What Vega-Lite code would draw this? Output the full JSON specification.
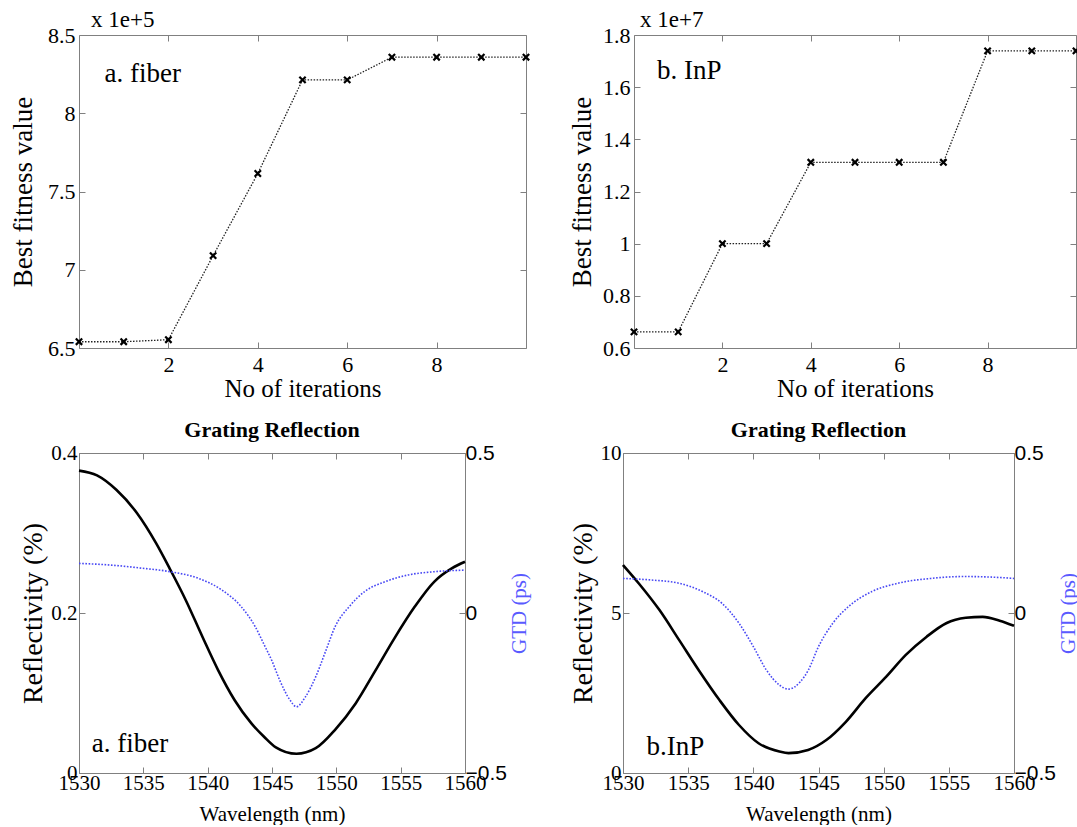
{
  "$schema": "https://vega.github.io/schema/vega-lite/v6.json",
  "background": "white",
  "padding": {"left": 9, "top": 8, "right": 0, "bottom": 0},
  "config": {
    "view": {"stroke": "#808080", "strokeWidth": 1},
    "font": "Liberation Serif",
    "axis": {"labelFont": "Liberation Serif", "titleFont": "Liberation Serif", "labelColor": "black", "titleColor": "black", "titleFontWeight": "normal", "domain": false, "grid": false, "tickColor": "#808080", "tickSize": -6, "ticks": true, "labelOverlap": false, "labelFlush": false},
    "title": {"font": "Liberation Serif", "color": "black"}
  },
  "datasets": {
    "fiberFit": [
      {"iteration": 0, "fitness": 6.54}, {"iteration": 1, "fitness": 6.54}, {"iteration": 2, "fitness": 6.553},
      {"iteration": 3, "fitness": 7.09}, {"iteration": 4, "fitness": 7.615}, {"iteration": 5, "fitness": 8.213},
      {"iteration": 6, "fitness": 8.213}, {"iteration": 7, "fitness": 8.358}, {"iteration": 8, "fitness": 8.358},
      {"iteration": 9, "fitness": 8.358}, {"iteration": 10, "fitness": 8.358}
    ],
    "inpFit": [
      {"iteration": 0, "fitness": 0.662}, {"iteration": 1, "fitness": 0.662}, {"iteration": 2, "fitness": 1.0},
      {"iteration": 3, "fitness": 1.0}, {"iteration": 4, "fitness": 1.312}, {"iteration": 5, "fitness": 1.312},
      {"iteration": 6, "fitness": 1.312}, {"iteration": 7, "fitness": 1.312}, {"iteration": 8, "fitness": 1.739},
      {"iteration": 9, "fitness": 1.739}, {"iteration": 10, "fitness": 1.739}
    ],
    "fiberR": [
      {"wavelength": 1530, "reflectivity": 0.378}, {"wavelength": 1531.4, "reflectivity": 0.372},
      {"wavelength": 1532.9, "reflectivity": 0.354}, {"wavelength": 1534.5, "reflectivity": 0.325},
      {"wavelength": 1536, "reflectivity": 0.287}, {"wavelength": 1537.1, "reflectivity": 0.254},
      {"wavelength": 1538.3, "reflectivity": 0.216}, {"wavelength": 1539.6, "reflectivity": 0.17},
      {"wavelength": 1540.8, "reflectivity": 0.129}, {"wavelength": 1542.1, "reflectivity": 0.091},
      {"wavelength": 1543.4, "reflectivity": 0.062}, {"wavelength": 1544.4, "reflectivity": 0.045},
      {"wavelength": 1545.3, "reflectivity": 0.032}, {"wavelength": 1546.9, "reflectivity": 0.024},
      {"wavelength": 1548.4, "reflectivity": 0.031}, {"wavelength": 1549.9, "reflectivity": 0.054},
      {"wavelength": 1551.5, "reflectivity": 0.087}, {"wavelength": 1553, "reflectivity": 0.127},
      {"wavelength": 1554.5, "reflectivity": 0.168}, {"wavelength": 1556.1, "reflectivity": 0.208},
      {"wavelength": 1557.6, "reflectivity": 0.239}, {"wavelength": 1559, "reflectivity": 0.256},
      {"wavelength": 1560, "reflectivity": 0.264}
    ],
    "fiberG": [
      {"wavelength": 1530, "gtd": 0.155}, {"wavelength": 1532.4, "gtd": 0.15}, {"wavelength": 1534.9, "gtd": 0.14},
      {"wavelength": 1537.1, "gtd": 0.129}, {"wavelength": 1539.3, "gtd": 0.108}, {"wavelength": 1541.1, "gtd": 0.072},
      {"wavelength": 1542.6, "gtd": 0.02}, {"wavelength": 1543.7, "gtd": -0.043}, {"wavelength": 1544.4, "gtd": -0.1},
      {"wavelength": 1545.0, "gtd": -0.15}, {"wavelength": 1545.6, "gtd": -0.21}, {"wavelength": 1546.4, "gtd": -0.272},
      {"wavelength": 1546.9, "gtd": -0.293}, {"wavelength": 1547.6, "gtd": -0.262}, {"wavelength": 1548.4, "gtd": -0.199},
      {"wavelength": 1549.2, "gtd": -0.116}, {"wavelength": 1549.9, "gtd": -0.043}, {"wavelength": 1551, "gtd": 0.02},
      {"wavelength": 1552.2, "gtd": 0.067}, {"wavelength": 1553.8, "gtd": 0.098}, {"wavelength": 1555.6, "gtd": 0.119},
      {"wavelength": 1557.6, "gtd": 0.129}, {"wavelength": 1560, "gtd": 0.134}
    ],
    "inpR": [
      {"wavelength": 1530, "reflectivity": 6.5}, {"wavelength": 1531.2, "reflectivity": 5.93},
      {"wavelength": 1532.8, "reflectivity": 5.09}, {"wavelength": 1534.3, "reflectivity": 4.16},
      {"wavelength": 1535.8, "reflectivity": 3.22}, {"wavelength": 1537.4, "reflectivity": 2.28},
      {"wavelength": 1538.9, "reflectivity": 1.5}, {"wavelength": 1540.4, "reflectivity": 0.93},
      {"wavelength": 1542, "reflectivity": 0.67}, {"wavelength": 1542.7, "reflectivity": 0.62},
      {"wavelength": 1544.2, "reflectivity": 0.72}, {"wavelength": 1545.6, "reflectivity": 1.03},
      {"wavelength": 1547.1, "reflectivity": 1.6}, {"wavelength": 1548.6, "reflectivity": 2.33},
      {"wavelength": 1550.2, "reflectivity": 3.01}, {"wavelength": 1551.7, "reflectivity": 3.69},
      {"wavelength": 1553.3, "reflectivity": 4.26}, {"wavelength": 1554.8, "reflectivity": 4.68},
      {"wavelength": 1556.3, "reflectivity": 4.85}, {"wavelength": 1557.6, "reflectivity": 4.88},
      {"wavelength": 1558.9, "reflectivity": 4.76}, {"wavelength": 1560, "reflectivity": 4.6}
    ],
    "inpG": [
      {"wavelength": 1530, "gtd": 0.108}, {"wavelength": 1532.2, "gtd": 0.103}, {"wavelength": 1534.3, "gtd": 0.093},
      {"wavelength": 1536.1, "gtd": 0.067}, {"wavelength": 1537.6, "gtd": 0.03}, {"wavelength": 1538.9, "gtd": -0.032},
      {"wavelength": 1540, "gtd": -0.105}, {"wavelength": 1541, "gtd": -0.178}, {"wavelength": 1542, "gtd": -0.225},
      {"wavelength": 1542.7, "gtd": -0.238}, {"wavelength": 1543.6, "gtd": -0.215}, {"wavelength": 1544.2, "gtd": -0.18},
      {"wavelength": 1545.0, "gtd": -0.105}, {"wavelength": 1546.1, "gtd": -0.032}, {"wavelength": 1547.3, "gtd": 0.02},
      {"wavelength": 1549.1, "gtd": 0.067}, {"wavelength": 1551.1, "gtd": 0.093}, {"wavelength": 1553.6, "gtd": 0.108},
      {"wavelength": 1556.2, "gtd": 0.114}, {"wavelength": 1559.3, "gtd": 0.11}, {"wavelength": 1560, "gtd": 0.108}
    ]
  },
  "columns": 2,
  "align": "none",
  "spacing": {"row": 16, "column": 33},
  "concat": [
    {
      "width": 447, "height": 313,
      "title": {"text": "x 1e+5", "anchor": "start", "frame": "group", "fontSize": 23, "fontWeight": "normal", "dx": 12, "offset": -8},
      "data": {"name": "fiberFit"},
      "layer": [
        {
          "mark": {"type": "line", "color": "#222222", "strokeDash": [1.5, 1.5], "strokeWidth": 1.3},
          "encoding": {
            "x": {"field": "iteration", "type": "quantitative", "scale": {"domain": [0, 10], "nice": false},
                  "axis": {"values": [2, 4, 6, 8], "title": "No of iterations", "labelFontSize": 22, "titleFontSize": 25, "labelPadding": 12, "titlePadding": 1}},
            "y": {"field": "fitness", "type": "quantitative", "scale": {"domain": [6.5, 8.5], "nice": false, "zero": false},
                  "axis": {"values": [6.5, 7, 7.5, 8, 8.5], "format": "~r", "title": "Best fitness value", "labelFontSize": 22, "titleFontSize": 27, "labelPadding": 10, "titlePadding": 10}}
          }
        },
        {
          "mark": {"type": "point", "shape": "M-1,-1L1,1M-1,1L1,-1", "filled": false, "color": "black", "strokeWidth": 2.2, "size": 40, "opacity": 1},
          "encoding": {
            "x": {"field": "iteration", "type": "quantitative", "axis": {"orient": "top", "values": [2, 4, 6, 8], "labels": false, "labelPadding": 0, "title": null}},
            "y": {"field": "fitness", "type": "quantitative", "axis": {"orient": "right", "values": [6.5, 7, 7.5, 8, 8.5], "labels": false, "labelPadding": 0, "title": null}}
          }
        },
        {
          "data": {"values": [{"label": "a. fiber"}]},
          "mark": {"type": "text", "fontSize": 27, "align": "left", "baseline": "alphabetic", "color": "black"},
          "encoding": {
            "x": {"datum": 0.57, "type": "quantitative", "axis": null},
            "y": {"datum": 8.2, "type": "quantitative", "axis": null},
            "text": {"field": "label"}
          }
        }
      ],
      "resolve": {"axis": {"x": "independent", "y": "independent"}}
    },
    {
      "width": 442, "height": 313,
      "title": {"text": "x 1e+7", "anchor": "start", "frame": "group", "fontSize": 23, "fontWeight": "normal", "dx": 6, "offset": -8},
      "data": {"name": "inpFit"},
      "layer": [
        {
          "mark": {"type": "line", "color": "#222222", "strokeDash": [1.5, 1.5], "strokeWidth": 1.3},
          "encoding": {
            "x": {"field": "iteration", "type": "quantitative", "scale": {"domain": [0, 10], "nice": false},
                  "axis": {"values": [2, 4, 6, 8], "title": "No of iterations", "labelFontSize": 22, "titleFontSize": 25, "labelPadding": 12, "titlePadding": 1}},
            "y": {"field": "fitness", "type": "quantitative", "scale": {"domain": [0.6, 1.8], "nice": false, "zero": false},
                  "axis": {"values": [0.6, 0.8, 1, 1.2, 1.4, 1.6, 1.8], "format": "~r", "title": "Best fitness value", "labelFontSize": 22, "titleFontSize": 27, "labelPadding": 10, "titlePadding": 6}}
          }
        },
        {
          "mark": {"type": "point", "shape": "M-1,-1L1,1M-1,1L1,-1", "filled": false, "color": "black", "strokeWidth": 2.2, "size": 40, "opacity": 1},
          "encoding": {
            "x": {"field": "iteration", "type": "quantitative", "axis": {"orient": "top", "values": [2, 4, 6, 8], "labels": false, "labelPadding": 0, "title": null}},
            "y": {"field": "fitness", "type": "quantitative", "axis": {"orient": "right", "values": [0.6, 0.8, 1, 1.2, 1.4, 1.6, 1.8], "labels": false, "labelPadding": 0, "title": null}}
          }
        },
        {
          "data": {"values": [{"label": "b. InP"}]},
          "mark": {"type": "text", "fontSize": 27, "align": "left", "baseline": "alphabetic", "color": "black"},
          "encoding": {
            "x": {"datum": 0.52, "type": "quantitative", "axis": null},
            "y": {"datum": 1.63, "type": "quantitative", "axis": null},
            "text": {"field": "label"}
          }
        }
      ],
      "resolve": {"axis": {"x": "independent", "y": "independent"}}
    },
    {
      "width": 386, "height": 320,
      "title": {"text": "Grating Reflection", "fontSize": 22, "fontWeight": "bold", "anchor": "middle", "frame": "group", "offset": 0},
      "layer": [
        {
          "data": {"name": "fiberR"},
          "mark": {"type": "line", "color": "black", "strokeWidth": 2.6, "interpolate": "monotone"},
          "encoding": {
            "x": {"field": "wavelength", "type": "quantitative", "scale": {"domain": [1530, 1560], "nice": false},
                  "axis": {"values": [1530, 1535, 1540, 1545, 1550, 1555, 1560], "format": "d", "title": "Wavelength (nm)", "labelFontSize": 21, "titleFontSize": 21, "labelPadding": 5, "titlePadding": 10}},
            "y": {"field": "reflectivity", "type": "quantitative", "scale": {"domain": [0, 0.4], "nice": false},
                  "axis": {"values": [0, 0.2, 0.4], "format": "~r", "title": "Reflectivity (%)", "labelFontSize": 21, "titleFontSize": 28, "labelPadding": 8, "titlePadding": 3}}
          }
        },
        {
          "data": {"name": "fiberG"},
          "mark": {"type": "line", "color": "#4848f4", "strokeWidth": 1.6, "strokeDash": [1.6, 1.6], "interpolate": "monotone"},
          "encoding": {
            "x": {"field": "wavelength", "type": "quantitative", "axis": {"orient": "top", "values": [1530, 1535, 1540, 1545, 1550, 1555, 1560], "labels": false, "labelPadding": 0, "title": null}},
            "y": {"field": "gtd", "type": "quantitative", "scale": {"domain": [-0.5, 0.5], "nice": false},
                  "axis": {"orient": "right", "values": [-0.5, 0, 0.5], "format": "~r", "labelFont": "Liberation Sans", "labelFontSize": 21, "labelPadding": 6, "title": "GTD (ps)", "titleColor": "#5a5aff", "titleFontSize": 21, "titleAngle": 270, "titleBaseline": "top", "titlePadding": 2}}
          }
        },
        {
          "data": {"values": [{"label": "a. fiber"}]},
          "mark": {"type": "text", "fontSize": 27, "align": "left", "baseline": "alphabetic", "color": "black"},
          "encoding": {
            "x": {"datum": 1531.0, "type": "quantitative", "axis": null},
            "y": {"datum": 0.026, "type": "quantitative", "scale": {"domain": [0, 0.4], "nice": false}, "axis": null},
            "text": {"field": "label"}
          }
        }
      ],
      "resolve": {"scale": {"y": "independent"}, "axis": {"x": "independent", "y": "independent"}}
    },
    {
      "width": 391, "height": 320,
      "title": {"text": "Grating Reflection", "fontSize": 22, "fontWeight": "bold", "anchor": "middle", "frame": "group", "offset": 0},
      "layer": [
        {
          "data": {"name": "inpR"},
          "mark": {"type": "line", "color": "black", "strokeWidth": 2.6, "interpolate": "monotone"},
          "encoding": {
            "x": {"field": "wavelength", "type": "quantitative", "scale": {"domain": [1530, 1560], "nice": false},
                  "axis": {"values": [1530, 1535, 1540, 1545, 1550, 1555, 1560], "format": "d", "title": "Wavelength (nm)", "labelFontSize": 21, "titleFontSize": 21, "labelPadding": 5, "titlePadding": 10}},
            "y": {"field": "reflectivity", "type": "quantitative", "scale": {"domain": [0, 10], "nice": false},
                  "axis": {"values": [0, 5, 10], "format": "~r", "title": "Reflectivity (%)", "labelFontSize": 21, "titleFontSize": 28, "labelPadding": 8, "titlePadding": 3}}
          }
        },
        {
          "data": {"name": "inpG"},
          "mark": {"type": "line", "color": "#4848f4", "strokeWidth": 1.6, "strokeDash": [1.6, 1.6], "interpolate": "monotone"},
          "encoding": {
            "x": {"field": "wavelength", "type": "quantitative", "axis": {"orient": "top", "values": [1530, 1535, 1540, 1545, 1550, 1555, 1560], "labels": false, "labelPadding": 0, "title": null}},
            "y": {"field": "gtd", "type": "quantitative", "scale": {"domain": [-0.5, 0.5], "nice": false},
                  "axis": {"orient": "right", "values": [-0.5, 0, 0.5], "format": "~r", "labelFont": "Liberation Sans", "labelFontSize": 21, "labelPadding": 6, "title": "GTD (ps)", "titleColor": "#5a5aff", "titleFontSize": 21, "titleAngle": 270, "titleBaseline": "top", "titlePadding": 2}}
          }
        },
        {
          "data": {"values": [{"label": "b.InP"}]},
          "mark": {"type": "text", "fontSize": 27, "align": "left", "baseline": "alphabetic", "color": "black"},
          "encoding": {
            "x": {"datum": 1531.8, "type": "quantitative", "axis": null},
            "y": {"datum": 0.56, "type": "quantitative", "scale": {"domain": [0, 10], "nice": false}, "axis": null},
            "text": {"field": "label"}
          }
        }
      ],
      "resolve": {"scale": {"y": "independent"}, "axis": {"x": "independent", "y": "independent"}}
    }
  ]
}
